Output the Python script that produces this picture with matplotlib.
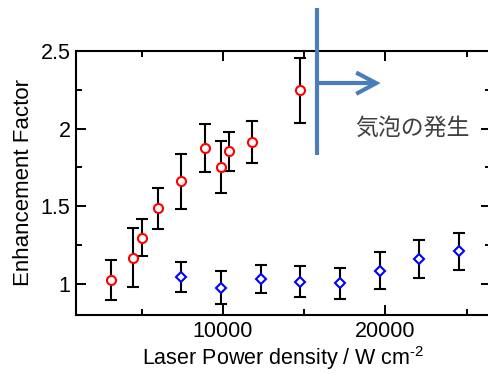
import matplotlib
matplotlib.use("Agg")
import matplotlib.pyplot as plt
from matplotlib.ticker import MultipleLocator, FixedLocator

plt.rcParams['font.family'] = ['Liberation Sans', 'DejaVu Sans']
plt.rcParams['mathtext.fontset'] = 'custom'
plt.rcParams['mathtext.rm'] = 'Liberation Sans'

# Data: with-bubble region series (red circles)
red_x = [3085, 4458, 5012, 5979, 7414, 8892, 9858, 10351, 11810, 14723]
red_y = [1.026, 1.169, 1.297, 1.487, 1.66, 1.878, 1.754, 1.853, 1.915, 2.248]
red_err = [0.128, 0.19, 0.12, 0.133, 0.178, 0.155, 0.166, 0.128, 0.133, 0.21]

# Second series (blue diamonds)
blue_x = [7414, 9900, 12321, 14766, 17186, 19667, 22094, 24513]
blue_y = [1.043, 0.976, 1.032, 1.013, 1.004, 1.085, 1.162, 1.21]
blue_err = [0.096, 0.107, 0.089, 0.1, 0.098, 0.118, 0.122, 0.118]

x_major = [10000, 20000]
x_minor = [5000, 15000, 25000]
y_major = [1.0, 1.5, 2.0, 2.5]
y_labels = ['1', '1.5', '2', '2.5']

annot_text = '気泡の発生'

W, H = 489, 374
fig = plt.figure(figsize=(W / 100, H / 100), dpi=100)
ax = fig.add_axes([76 / W, 59 / H, (491 - 76) / W, (315 - 51) / H])

lw = 1.5
ax.errorbar(red_x, red_y, yerr=red_err, fmt='o', ms=6.5, mfc='white', mec='#ff0000',
            mew=1.5, ecolor='black', elinewidth=lw, capsize=4.3, capthick=lw, zorder=3)
ax.errorbar(blue_x, blue_y, yerr=blue_err, fmt='D', ms=5.5, mfc='white', mec='#0000ff',
            mew=1.5, ecolor='black', elinewidth=lw, capsize=4.3, capthick=lw, zorder=3)

ax.set_xlim(950, 26500)
ax.set_ylim(0.8, 2.5)
ax.xaxis.set_major_locator(FixedLocator(x_major))
ax.xaxis.set_minor_locator(FixedLocator(x_minor))
ax.set_xticklabels([str(v) for v in x_major])
ax.yaxis.set_major_locator(FixedLocator(y_major))
ax.yaxis.set_minor_locator(MultipleLocator(0.25))
ax.set_yticklabels(y_labels)

ax.tick_params(which='both', direction='in', top=True, right=True, width=1.4,
               labelsize=15.5, pad=4, colors='black')
ax.tick_params(which='major', length=7)
ax.tick_params(which='minor', length=4)
for s in ax.spines.values():
    s.set_linewidth(1.5)

ax.set_xlabel('Laser Power density / W cm$\\mathregular{^{\\text{-}2}}$', fontsize=15.5, labelpad=1.5)
ax.set_ylabel('Enhancement Factor', fontsize=16, labelpad=5)

# Annotation: bubble onset marker
blue = '#4a7ebb'
ax.plot([15785, 15785], [1.83, 2.774], color=blue, lw=3, clip_on=False, zorder=4,
        solid_capstyle='butt')
ax.plot([15785, 19430], [2.293, 2.293], color=blue, lw=3, clip_on=False, zorder=4,
        solid_capstyle='butt')
ax.plot([18200, 19430, 18200], [2.361, 2.293, 2.224], color=blue, lw=3, clip_on=False,
        zorder=4, solid_joinstyle='miter', solid_capstyle='butt')
ax.text(21675, 2.0, annot_text, fontsize=16.5, color='#404040', ha='center', va='center',
        family=['Noto Sans CJK JP', 'DejaVu Sans'], zorder=5)

fig.savefig('out.png', dpi=100)
